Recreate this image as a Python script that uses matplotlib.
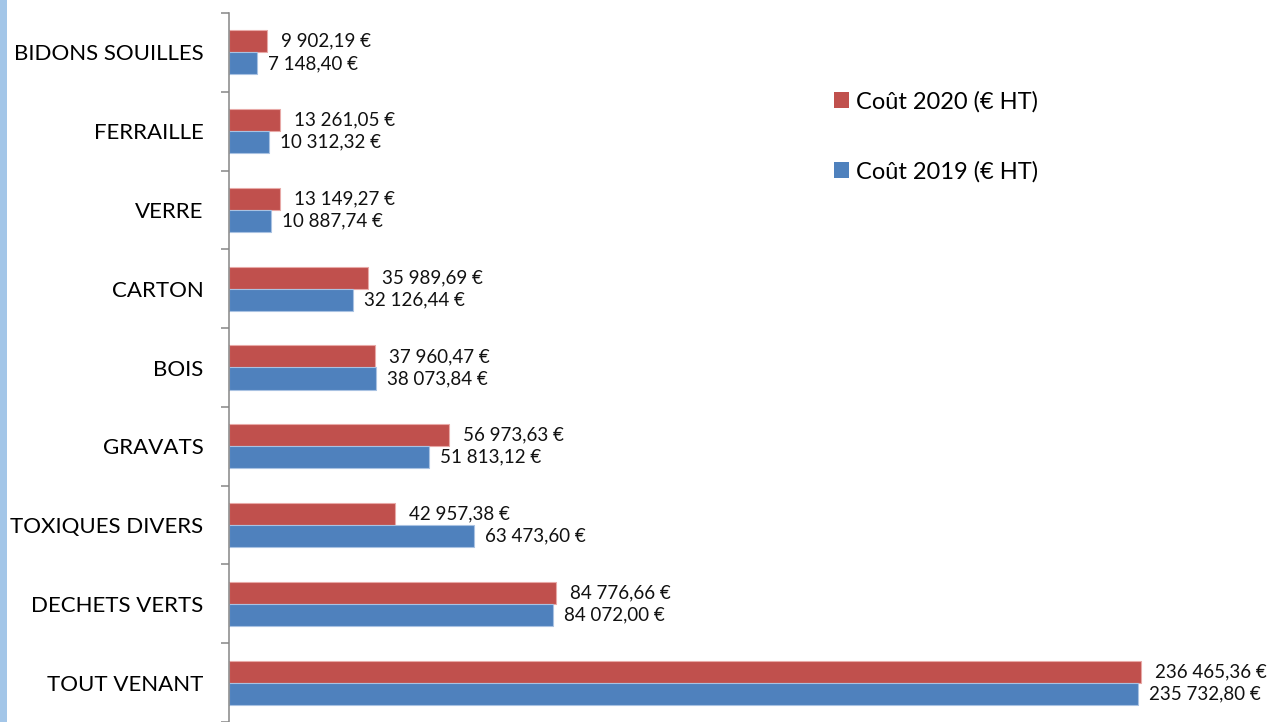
import matplotlib
matplotlib.use("Agg")
import matplotlib.pyplot as plt
from matplotlib.patches import Rectangle, Patch
import numpy as np

categories = ["BIDONS SOUILLES", "FERRAILLE", "VERRE", "CARTON", "BOIS",
              "GRAVATS", "TOXIQUES DIVERS", "DECHETS VERTS", "TOUT VENANT"]
cout_2020 = [9902.19, 13261.05, 13149.27, 35989.69, 37960.47,
             56973.63, 42957.38, 84776.66, 236465.36]
cout_2019 = [7148.40, 10312.32, 10887.74, 32126.44, 38073.84,
             51813.12, 63473.60, 84072.00, 235732.80]
labels_2020 = ["9 902,19 €", "13 261,05 €", "13 149,27 €", "35 989,69 €", "37 960,47 €",
               "56 973,63 €", "42 957,38 €", "84 776,66 €", "236 465,36 €"]
labels_2019 = ["7 148,40 €", "10 312,32 €", "10 887,74 €", "32 126,44 €", "38 073,84 €",
               "51 813,12 €", "63 473,60 €", "84 072,00 €", "235 732,80 €"]
series_names = ["Coût 2020 (€ HT)", "Coût 2019 (€ HT)"]

RED = "#C0504D"
BLUE = "#4F81BD"
FONT = ["Lato", "DejaVu Sans"]

W, H = 1269, 722
fig = plt.figure(figsize=(W / 100, H / 100), dpi=100)
fig.patches.append(Rectangle((0, 0), 7 / W, 1, transform=fig.transFigure,
                             facecolor="#A3C6E8", edgecolor="none"))

left = 229 / W
top_px = 13
ax = fig.add_axes([left, 0, 1 - left, (H - top_px) / H])

y = np.arange(len(categories))
bh = 0.28
ax.barh(y - bh / 2, cout_2020, height=bh, color=RED, edgecolor="#E8A9A7", linewidth=0.8)
ax.barh(y + bh / 2, cout_2019, height=bh, color=BLUE, edgecolor="#A9C2E2", linewidth=0.8)

for i in range(len(categories)):
    ax.annotate(labels_2020[i], (cout_2020[i], y[i] - bh / 2), xytext=(14, 0),
                textcoords="offset pixels", va="center", ha="left",
                fontsize=13.5, family=FONT, color="#111111")
    ax.annotate(labels_2019[i], (cout_2019[i], y[i] + bh / 2), xytext=(11, 0),
                textcoords="offset pixels", va="center", ha="left",
                fontsize=13.5, family=FONT, color="#111111")

ax.set_xlim(0, 236465.36 * 1040 / 912)
ax.set_ylim(8.5 - 2 / 79, -0.5)

ax.set_yticks(y)
ax.set_yticklabels(categories, family=FONT, fontsize=16)
ax.set_yticks(np.arange(-0.5, len(categories), 1), minor=True)
ax.tick_params(axis="y", which="major", length=0, pad=18.5)
ax.tick_params(axis="y", which="minor", length=6, width=1.1, color="#868686")
ax.xaxis.set_visible(False)
for s in ["top", "right", "bottom"]:
    ax.spines[s].set_visible(False)
ax.spines["left"].set_color("#868686")
ax.spines["left"].set_linewidth(1.1)

handles = [Patch(facecolor=RED, edgecolor="none"), Patch(facecolor=BLUE, edgecolor="none")]
fig.legend(handles, series_names, loc="upper left",
           bbox_to_anchor=(822 / W, 1 - 79 / H), frameon=False,
           prop={"family": FONT, "size": 17}, handlelength=0.65, handleheight=0.65,
           handletextpad=0.3, labelspacing=2.05, borderpad=0)

fig.savefig("out.png", dpi=100)
